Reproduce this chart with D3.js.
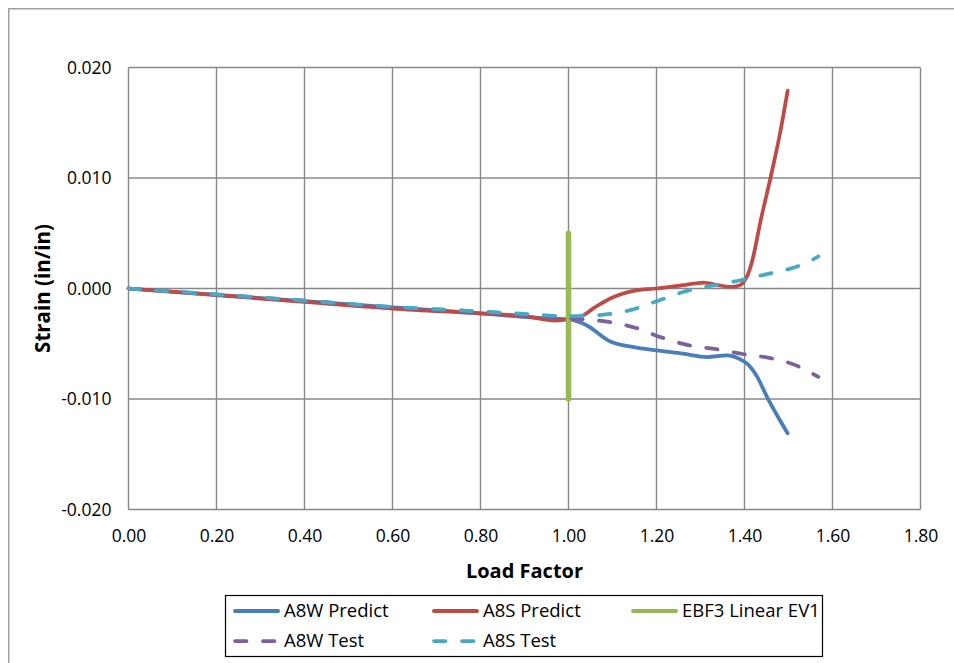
<!DOCTYPE html>
<html>
<head>
<meta charset="utf-8">
<script src="https://cdn.jsdelivr.net/npm/d3@7/dist/d3.min.js"></script>
<style>
  html, body { margin: 0; padding: 0; background: #fff; }
  svg { display: block; }
  text { font-family: "Open Sans", "Liberation Sans", sans-serif; fill: #000; }
</style>
</head>
<body>
<svg id="chart" width="954" height="663"></svg>
<script>
// ---------- data ----------
const xTicks = [0, 0.2, 0.4, 0.6, 0.8, 1.0, 1.2, 1.4, 1.6, 1.8];
const yTicks = [-0.02, -0.01, 0.0, 0.01, 0.02];

const seriesNames = ["A8W Predict", "A8S Predict", "EBF3 Linear EV1", "A8W Test", "A8S Test"];

const a8wPredict = [
  [0, 0], [0.2, -0.00058], [0.4, -0.00115], [0.6, -0.0017], [0.8, -0.00226],
  [0.95, -0.0027], [1.0, -0.0028], [1.04, -0.0033], [1.095, -0.0048], [1.148, -0.0053],
  [1.2, -0.0056], [1.26, -0.0059], [1.315, -0.0062], [1.36, -0.00605], [1.39, -0.0064],
  [1.406, -0.0068], [1.429, -0.0080], [1.451, -0.0098], [1.474, -0.01147], [1.498, -0.0131]
];
const a8sPredict = [
  [0, 0], [0.2, -0.0006], [0.4, -0.00122], [0.6, -0.00182], [0.8, -0.00226],
  [0.9, -0.0025], [0.97, -0.0029], [1.0, -0.0028], [1.027, -0.00257], [1.06, -0.0017],
  [1.095, -0.0009], [1.148, -0.00022], [1.2, 0.0], [1.26, 0.0003], [1.307, 0.00054],
  [1.34, 0.0003], [1.368, 0.00015], [1.39, 0.0003], [1.40, 0.0007], [1.41, 0.0015],
  [1.42, 0.0029], [1.436, 0.0060], [1.459, 0.0100], [1.482, 0.0143], [1.498, 0.0179]
];
const ebf3Linear = [[1.0, 0.005], [1.0, -0.010]];
const a8wTest = [
  [0, 0], [0.2, -0.00055], [0.4, -0.0011], [0.6, -0.0017], [0.8, -0.0021],
  [0.9, -0.0024], [1.0, -0.0027], [1.088, -0.0030], [1.156, -0.0036], [1.209, -0.0044],
  [1.269, -0.0051], [1.338, -0.0055], [1.398, -0.00595], [1.459, -0.0063], [1.52, -0.0070],
  [1.561, -0.00785], [1.568, -0.0080]
];
const a8sTest = [
  [0, 0], [0.2, -0.00054], [0.4, -0.0011], [0.6, -0.00166], [0.8, -0.00208],
  [0.9, -0.0023], [1.0, -0.0025], [1.072, -0.0024], [1.14, -0.00196], [1.201, -0.00115],
  [1.262, -0.0003], [1.323, 0.00024], [1.391, 0.00075], [1.451, 0.0013], [1.504, 0.0018],
  [1.54, 0.0023], [1.568, 0.0029]
];

// ---------- layout ----------
const svg = d3.select("#chart");
const plot = { left: 128.5, right: 920.5, top: 67.5, bottom: 509.5 };

const x = d3.scaleLinear().domain([0, 1.8]).range([plot.left, plot.right]);
const y = d3.scaleLinear().domain([-0.02, 0.02]).range([plot.bottom, plot.top]);

const gridColor = "#878787";

// outer chart border
svg.append("rect")
  .attr("x", 8.75).attr("y", 8.75).attr("width", 1000).attr("height", 1000)
  .attr("fill", "none").attr("stroke", "#a0a0a0").attr("stroke-width", 1.5);

// gridlines
const grid = svg.append("g");
grid.selectAll("line.v").data(xTicks).join("line")
  .attr("x1", d => x(d)).attr("x2", d => x(d))
  .attr("y1", plot.top).attr("y2", plot.bottom)
  .attr("stroke", gridColor).attr("stroke-width", 1.4);
grid.selectAll("line.h").data(yTicks).join("line")
  .attr("y1", d => y(d)).attr("y2", d => y(d))
  .attr("x1", plot.left).attr("x2", plot.right)
  .attr("stroke", gridColor).attr("stroke-width", 1.4);

// axes (labels only; lines drawn above as grid)
const xAxis = d3.axisBottom(x).tickValues(xTicks).tickFormat(d => d.toFixed(2)).tickSize(0).tickPadding(20);
const gx = svg.append("g").attr("transform", `translate(0,${plot.bottom})`).call(xAxis);
gx.select(".domain").remove();
gx.selectAll("text").style("font-size", "17.5px").attr("fill", "#000");

const yAxis = d3.axisLeft(y).tickValues(yTicks).tickFormat(d => d.toFixed(3)).tickSize(0).tickPadding(17);
const gy = svg.append("g").attr("transform", `translate(${plot.left},0)`).call(yAxis);
gy.select(".domain").remove();
gy.selectAll("text").style("font-size", "17.5px").attr("fill", "#000");
gx.attr("font-family", null); gy.attr("font-family", null);

// axis titles
svg.append("text")
  .attr("x", (plot.left + plot.right) / 2).attr("y", 578)
  .attr("text-anchor", "middle")
  .style("font-size", "20px").style("font-weight", "bold")
  .text("Load Factor");
svg.append("text")
  .attr("transform", `translate(50,${(plot.top + plot.bottom) / 2}) rotate(-90)`)
  .attr("text-anchor", "middle")
  .style("font-size", "20.5px").style("font-weight", "bold")
  .text("Strain (in/in)");

// ---------- series ----------
const styles = [
  { name: seriesNames[0], data: a8wPredict, color: "#4A7EBB", width: 3.75, dash: false },
  { name: seriesNames[1], data: a8sPredict, color: "#BE4B48", width: 3.75, dash: false },
  { name: seriesNames[2], data: ebf3Linear, color: "#98B954", width: 5.5, dash: false },
  { name: seriesNames[3], data: a8wTest, color: "#7D60A0", width: 3.75, dash: true },
  { name: seriesNames[4], data: a8sTest, color: "#46AAC5", width: 3.75, dash: true }
];

const line = d3.line().x(d => x(d[0])).y(d => y(d[1])).curve(d3.curveMonotoneX);

const paths = svg.append("g").selectAll("path").data(styles).join("path")
  .attr("d", d => line(d.data))
  .attr("fill", "none")
  .attr("stroke", d => d.color)
  .attr("stroke-width", d => d.width)
  .attr("stroke-linecap", "round")
  .attr("stroke-linejoin", "round");

// dash period close to 28px, chosen so the path ends inside a dash
paths.filter(d => d.dash).each(function () {
  const L = this.getTotalLength();
  const n = Math.round((L - 6) / 28);
  const P = (L - 6) / n;
  const on = P * 0.41;
  this.setAttribute("stroke-dasharray", `${on},${P - on}`);
});

// ---------- legend ----------
const legend = svg.append("g");
legend.append("rect")
  .attr("x", 225.5).attr("y", 595.5).attr("width", 597).attr("height", 61)
  .attr("fill", "#fff").attr("stroke", "#000").attr("stroke-width", 1.2);

const legendPos = [
  { col: 0, row: 0 }, { col: 1, row: 0 }, { col: 2, row: 0 },
  { col: 0, row: 1 }, { col: 1, row: 1 }
];
const colX = [235, 434, 633];
const rowY = [611, 641];

styles.forEach((s, i) => {
  const p = legendPos[i];
  const lx = colX[p.col], ly = rowY[p.row];
  legend.append("line")
    .attr("x1", lx).attr("x2", lx + 43)
    .attr("y1", ly).attr("y2", ly)
    .attr("stroke", s.color)
    .attr("stroke-width", s.dash ? 3.75 : 4)
    .attr("stroke-linecap", "round")
    .attr("stroke-dasharray", s.dash ? "11.5,16.5" : null);
  legend.append("text")
    .attr("x", lx + 49).attr("y", ly)
    .attr("dy", "0.35em")
    .style("font-size", "18.5px")
    .text(s.name);
});
</script>
</body>
</html>
